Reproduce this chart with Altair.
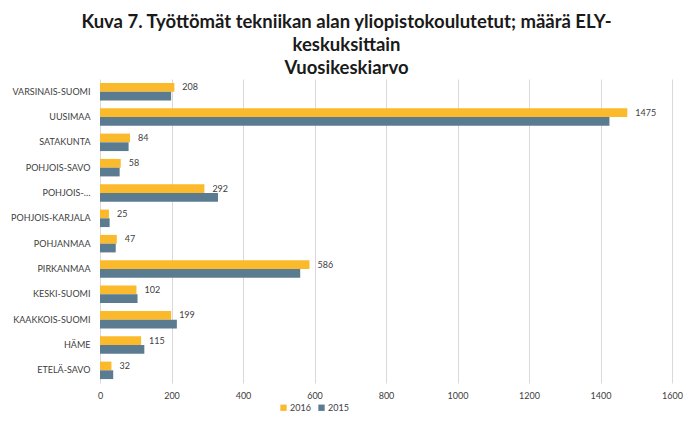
import altair as alt
import pandas as pd

regions = ["VARSINAIS-SUOMI", "UUSIMAA", "SATAKUNTA", "POHJOIS-SAVO", "POHJOIS-…",
           "POHJOIS-KARJALA", "POHJANMAA", "PIRKANMAA", "KESKI-SUOMI",
           "KAAKKOIS-SUOMI", "HÄME", "ETELÄ-SAVO"]
v2016 = [208, 1475, 84, 58, 292, 25, 47, 586, 102, 199, 115, 32]
v2015 = [199, 1425, 80, 55, 330, 27, 44, 560, 105, 215, 124, 37]
years = ["2016", "2015"]
colors = ["#FBBA2B", "#5B7B90"]
title_lines = ["Kuva 7. Työttömät tekniikan alan yliopistokoulutetut; määrä ELY-",
               "keskuksittain", "Vuosikeskiarvo"]

rows = []
for r, a, b in zip(regions, v2016, v2015):
    rows.append({"region": r, "year": "2016", "value": a})
    rows.append({"region": r, "year": "2015", "value": b})
df = pd.DataFrame(rows)

FONT = "Lato"

y_enc = alt.Y("region:N", sort=regions, title=None,
              scale=alt.Scale(paddingInner=0.31, paddingOuter=0.155),
              axis=alt.Axis(ticks=False, domain=False, labelPadding=10,
                            labelFontSize=9, labelColor="#404040",
                            labelFont=FONT))
yoff = alt.YOffset("year:N", sort=years, scale=alt.Scale(domain=years, paddingInner=0))

bars = alt.Chart(df).mark_bar().encode(
    x=alt.X("value:Q", title=None,
            scale=alt.Scale(domain=[0, 1600], nice=False),
            axis=alt.Axis(values=list(range(0, 1601, 200)), format="d", ticks=False,
                          domain=False, grid=True, gridColor="#D9D9D9", labelFontSize=9,
                          labelColor="#404040", labelFont=FONT, labelPadding=8,
                          labelFlush=False)),
    y=y_enc,
    yOffset=yoff,
    color=alt.Color("year:N", sort=years,
                    scale=alt.Scale(domain=years, range=colors),
                    legend=alt.Legend(title=None, orient="none", direction="horizontal",
                                      legendX=179, legendY=324, symbolType="square",
                                      symbolSize=40, labelFontSize=9,
                                      labelColor="#404040", labelFont=FONT,
                                      columnPadding=6, symbolOffset=0,
                                      labelOffset=2)),
)

labels = alt.Chart(df).transform_filter(alt.datum.year == "2016").mark_text(
    align="left", dx=8, fontSize=9, color="#404040", font=FONT
).encode(
    x="value:Q",
    y=alt.Y("region:N", sort=regions),
    yOffset=yoff,
    text="value:Q",
)

chart = alt.layer(bars, labels).properties(
    width=572, height=304,
    autosize=alt.AutoSizeParams(type="none"),
    padding={"left": 92, "top": 71, "right": 13, "bottom": 32},
    title=alt.Title(title_lines, anchor="middle", frame="bounds", fontSize=18.5,
                    font=FONT, fontWeight="bold", color="#1a1a1a",
                    lineHeight=23, offset=2),
).configure_view(stroke=None)

chart.save("out.html", embed_options={"renderer": "svg", "actions": False})
